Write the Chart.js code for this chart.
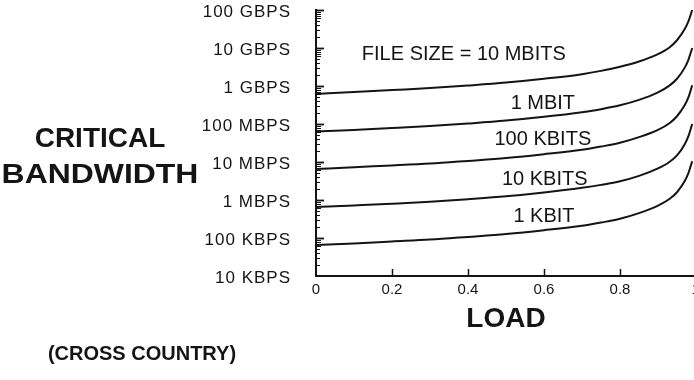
<!DOCTYPE html>
<html>
<head>
<meta charset="utf-8">
<script src="https://cdn.jsdelivr.net/npm/chart.js@4/dist/chart.umd.min.js"></script>
<style>
  html, body { margin: 0; padding: 0; background: #fff; overflow: hidden; width: 694px; height: 380px; }
  canvas { display: block; }
</style>
</head>
<body>
<canvas id="c" width="697" height="380"></canvas>
<script>
// Load on the link (0 = idle, 1 = saturated)
const loads = [0, 0.1, 0.2, 0.3, 0.4, 0.5, 0.6, 0.7, 0.75, 0.8, 0.85, 0.9, 0.93, 0.95, 0.97, 0.98, 0.99];

// Critical bandwidth (bits per second) for each file size, cross-country path
const bw10Mbits  = [6.2e8, 6.9e8, 7.8e8, 8.8e8, 1.03e9, 1.23e9, 1.55e9, 2.05e9, 2.5e9, 3.2e9, 4.4e9, 6.9e9, 1.03e10, 1.6e10, 3.1e10, 5.0e10, 1.0e11];
const bw1Mbit    = [6.3e7, 7.0e7, 7.8e7, 8.8e7, 1.03e8, 1.23e8, 1.55e8, 2.05e8, 2.45e8, 3.1e8, 4.3e8, 6.8e8, 1.02e9, 1.55e9, 3.0e9, 4.9e9, 1.0e10];
const bw100Kbits = [6.5e6, 7.3e6, 8.1e6, 9.1e6, 1.07e7, 1.27e7, 1.6e7, 2.1e7, 2.55e7, 3.2e7, 4.5e7, 7.0e7, 1.05e8, 1.6e8, 3.1e8, 5.0e8, 1.05e9];
const bw10Kbits  = [6.5e5, 7.2e5, 8.0e5, 9.0e5, 1.05e6, 1.25e6, 1.58e6, 2.1e6, 2.5e6, 3.1e6, 4.3e6, 6.8e6, 1.0e7, 1.5e7, 2.9e7, 4.8e7, 1.0e8];
const bw1Kbit    = [6.5e4, 7.2e4, 8.1e4, 9.1e4, 1.07e5, 1.27e5, 1.6e5, 2.1e5, 2.55e5, 3.2e5, 4.5e5, 7.1e5, 1.06e6, 1.6e6, 3.1e6, 5.1e6, 1.05e7];

// Curve captions and where they sit (load, bandwidth)
const curveNames  = ['FILE SIZE = 10 MBITS', '1 MBIT', '100 KBITS', '10 KBITS', '1 KBIT'];
const captionLoad = [0.389, 0.597, 0.597, 0.602, 0.600];
const captionBw   = [6.75e9, 3.57e8, 4.03e7, 3.57e6, 3.79e5];

// Axis ticks
const yTickValues = [1e4, 1e5, 1e6, 1e7, 1e8, 1e9, 1e10, 1e11];
const yTickLabels = ['10 KBPS', '100 KBPS', '1 MBPS', '10 MBPS', '100 MBPS', '1 GBPS', '10 GBPS', '100 GBPS'];
const xTickLabels = ['0', '0.2', '0.4', '0.6', '0.8', '1'];

const INK = '#141414';
const FONT = "'Liberation Sans', Arial, Helvetica, sans-serif";

const seriesList = [bw10Mbits, bw1Mbit, bw100Kbits, bw10Kbits, bw1Kbit];
const datasets = seriesList.map((vals, i) => ({
  label: curveNames[i],
  data: vals.map((v, j) => ({ x: loads[j], y: v })),
  borderColor: INK,
  borderWidth: 2,
  pointRadius: 0,
  fill: false,
  cubicInterpolationMode: 'monotone'
}));

// Inside tick marks, curve captions and the free-standing labels
const decorations = {
  id: 'decorations',
  beforeDraw(chart) {
    // y tick labels are set slightly wide
    chart.ctx.letterSpacing = '1px';
  },
  beforeDatasetsDraw(chart) {
    chart.ctx.letterSpacing = '0px';
  },
  afterDraw(chart) {
    const ctx = chart.ctx;
    const xs = chart.scales.x, ys = chart.scales.y;
    const area = chart.chartArea;
    ctx.save();
    ctx.letterSpacing = '0px';
    ctx.strokeStyle = INK;

    // log-axis ticks pointing into the plot
    for (let d = 4; d <= 10; d++) {
      for (let m = 2; m <= 10; m++) {
        const v = m * Math.pow(10, d);
        const py = Math.round(ys.getPixelForValue(v)) + 0.5;
        const major = (m === 10);
        ctx.lineWidth = major ? 1.8 : 1;
        ctx.beginPath();
        ctx.moveTo(area.left, py);
        ctx.lineTo(area.left + (major ? 8 : (m >= 6 ? 5 : 4)), py);
        ctx.stroke();
      }
    }
    // load-axis ticks pointing up
    ctx.lineWidth = 1.5;
    for (let k = 1; k < xTickLabels.length; k++) {
      const px = Math.round(xs.getPixelForValue(k * 0.2)) + 0.5;
      ctx.beginPath();
      ctx.moveTo(px, area.bottom);
      ctx.lineTo(px, area.bottom - 7);
      ctx.stroke();
    }

    // captions on the curves
    ctx.fillStyle = INK;
    ctx.textAlign = 'center';
    ctx.textBaseline = 'middle';
    ctx.font = '20px ' + FONT;
    curveNames.forEach((t, i) => {
      ctx.fillText(t, xs.getPixelForValue(captionLoad[i]), ys.getPixelForValue(captionBw[i]));
    });

    // y-axis heading and path note
    ctx.font = 'bold 28px ' + FONT;
    ctx.fillText('CRITICAL', 100, 139);
    ctx.save();
    ctx.translate(100, 175);
    ctx.scale(1.14, 1);
    ctx.fillText('BANDWIDTH', 0, 0);
    ctx.restore();
    ctx.font = 'bold 20px ' + FONT;
    ctx.fillText('(CROSS COUNTRY)', 142, 354);
    ctx.restore();
  }
};

new Chart(document.getElementById('c'), {
  type: 'line',
  data: { datasets },
  plugins: [decorations],
  options: {
    responsive: false,
    animation: false,
    devicePixelRatio: 1,
    layout: { autoPadding: false, padding: { top: 10, right: 1, bottom: 0, left: 0 } },
    plugins: { legend: { display: false }, tooltip: { enabled: false } },
    scales: {
      x: {
        type: 'linear',
        min: 0,
        max: 1,
        afterFit(s) { s.height = 104; s.paddingLeft = 0; s.paddingRight = 0; },
        grid: { display: false, drawTicks: false, z: 2 },
        border: { display: true, color: INK, width: 2, z: 3 },
        ticks: {
          z: 1,
          stepSize: 0.2,
          autoSkip: false,
          maxRotation: 0,
          padding: 5,
          color: INK,
          font: { family: FONT, size: 15 },
          callback: (v, i) => xTickLabels[i]
        },
        title: {
          display: true,
          text: 'LOAD',
          color: INK,
          font: { family: FONT, size: 28, weight: 'bold' },
          padding: { top: 0, bottom: 44 }
        }
      },
      y: {
        type: 'logarithmic',
        min: 1e4,
        max: 1e11,
        afterFit(s) { s.width = 316; s.paddingTop = 0; s.paddingBottom = 0; },
        afterBuildTicks(s) { s.ticks = yTickValues.map(v => ({ value: v, major: true })); },
        grid: { display: false, drawTicks: false },
        border: { display: true, color: INK, width: 2 },
        ticks: {
          z: -1,
          autoSkip: false,
          padding: 25,
          labelOffset: 2,
          color: INK,
          font: { family: FONT, size: 17 },
          callback: (v, i) => yTickLabels[i]
        }
      }
    }
  }
});
</script>
</body>
</html>
